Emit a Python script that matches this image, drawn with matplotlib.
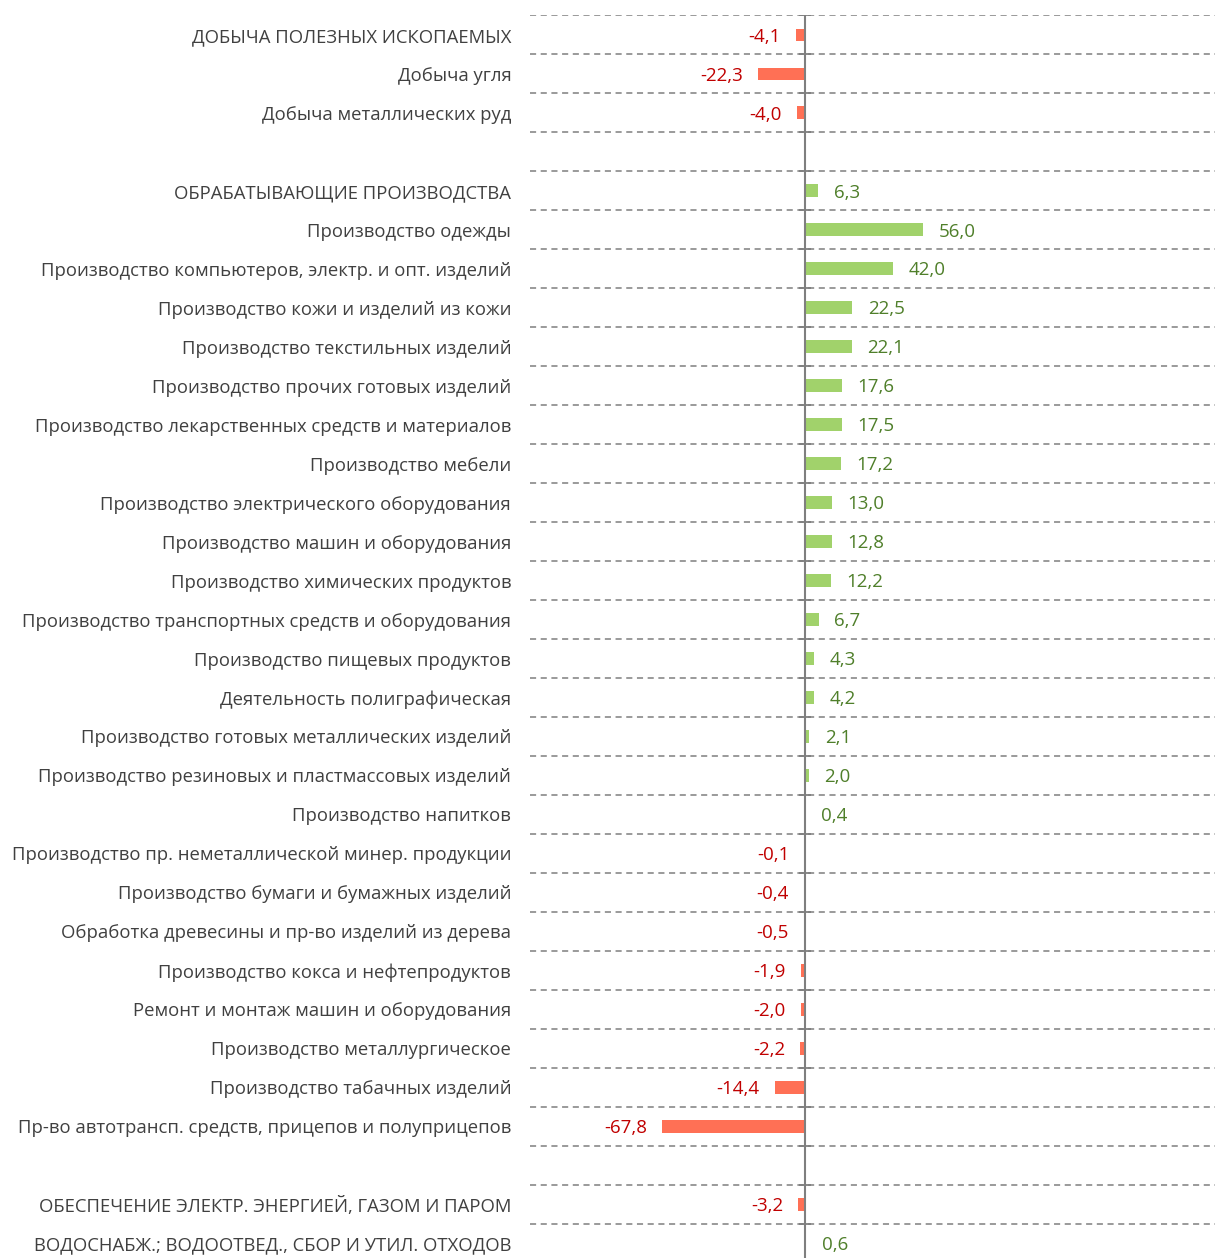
import numpy as np
import matplotlib
matplotlib.use("Agg")
from matplotlib import pyplot as plt

mining_names = ["ДОБЫЧА ПОЛЕЗНЫХ ИСКОПАЕМЫХ", "Добыча угля", "Добыча металлических руд"]
mining_vals = [-4.1, -22.3, -4.0]

manuf_names = [
    "ОБРАБАТЫВАЮЩИЕ ПРОИЗВОДСТВА",
    "Производство одежды",
    "Производство компьютеров, электр. и опт. изделий",
    "Производство кожи и изделий из кожи",
    "Производство текстильных изделий",
    "Производство прочих готовых изделий",
    "Производство лекарственных средств и материалов",
    "Производство мебели",
    "Производство электрического оборудования",
    "Производство машин и оборудования",
    "Производство химических продуктов",
    "Производство транспортных средств и оборудования",
    "Производство пищевых продуктов",
    "Деятельность полиграфическая",
    "Производство готовых металлических изделий",
    "Производство резиновых и пластмассовых изделий",
    "Производство напитков",
    "Производство пр. неметаллической минер. продукции",
    "Производство бумаги и бумажных изделий",
    "Обработка древесины и пр-во изделий из дерева",
    "Производство кокса и нефтепродуктов",
    "Ремонт и монтаж машин и оборудования",
    "Производство металлургическое",
    "Производство табачных изделий",
    "Пр-во автотрансп. средств, прицепов и полуприцепов",
]
manuf_vals = [6.3, 56.0, 42.0, 22.5, 22.1, 17.6, 17.5, 17.2, 13.0, 12.8, 12.2, 6.7,
              4.3, 4.2, 2.1, 2.0, 0.4, -0.1, -0.4, -0.5, -1.9, -2.0, -2.2, -14.4, -67.8]

util_names = ["ОБЕСПЕЧЕНИЕ ЭЛЕКТР. ЭНЕРГИЕЙ, ГАЗОМ И ПАРОМ",
              "ВОДОСНАБЖ.; ВОДООТВЕД., СБОР И УТИЛ. ОТХОДОВ"]
util_vals = [-3.2, 0.6]

# one empty row between groups
names = mining_names + [""] + manuf_names + [""] + util_names
vals = mining_vals + [np.nan] + manuf_vals + [np.nan] + util_vals
n = len(names)
y = np.arange(n)

plt.rcParams['font.family'] = ['Open Sans', 'DejaVu Sans']

fig = plt.figure(figsize=(12.15, 12.58), dpi=100)
H = 1258.0
top = 15.5
step = 38.97
ax = fig.add_axes([530 / 1215, 1 - (top + n * step) / H, 685 / 1215, n * step / H])

pos_c, neg_c = "#A1D26B", "#FF7055"
pos_t, neg_t = "#4F7F2A", "#C00000"

for yi, v in zip(y, vals):
    if np.isnan(v):
        continue
    ax.barh(yi, v, height=0.33, color=pos_c if v >= 0 else neg_c, zorder=2)
    lab = f"{v:.1f}".replace(".", ",")
    if v >= 0:
        ax.annotate(lab, (v, yi), xytext=(11, -1.2), textcoords="offset points",
                    ha="left", va="center", fontsize=13.5, color=pos_t)
    else:
        ax.annotate(lab, (v, yi), xytext=(-11, -1.2), textcoords="offset points",
                    ha="right", va="center", fontsize=13.5, color=neg_t)

ax.set_xlim(-275 / 2.107, 410 / 2.107)
ax.set_ylim(n - 0.5, -0.5)

ax.set_yticks(y)
ax.set_yticklabels(names, fontsize=13.3, color="#404040")
ax.tick_params(axis="y", which="major", length=0, pad=13.5)
ax.set_yticks(np.arange(n + 1) - 0.5, minor=True)
ax.tick_params(axis="y", which="minor", length=0)
ax.grid(axis="y", which="minor", color="#7F7F7F", linestyle=(0, (4, 3)), linewidth=1.1)
ax.set_xticks([])
for s in ax.spines.values():
    s.set_visible(False)

# zero axis with small ticks at row boundaries
ax.axvline(0, color="#7F7F7F", linewidth=1.5, zorder=3)
ax.plot(np.zeros(n + 1), np.arange(n + 1) - 0.5, linestyle="none", marker="_",
        markersize=9, markeredgewidth=1.3, color="#7F7F7F", zorder=3)

fig.savefig("out.png", dpi=100)
